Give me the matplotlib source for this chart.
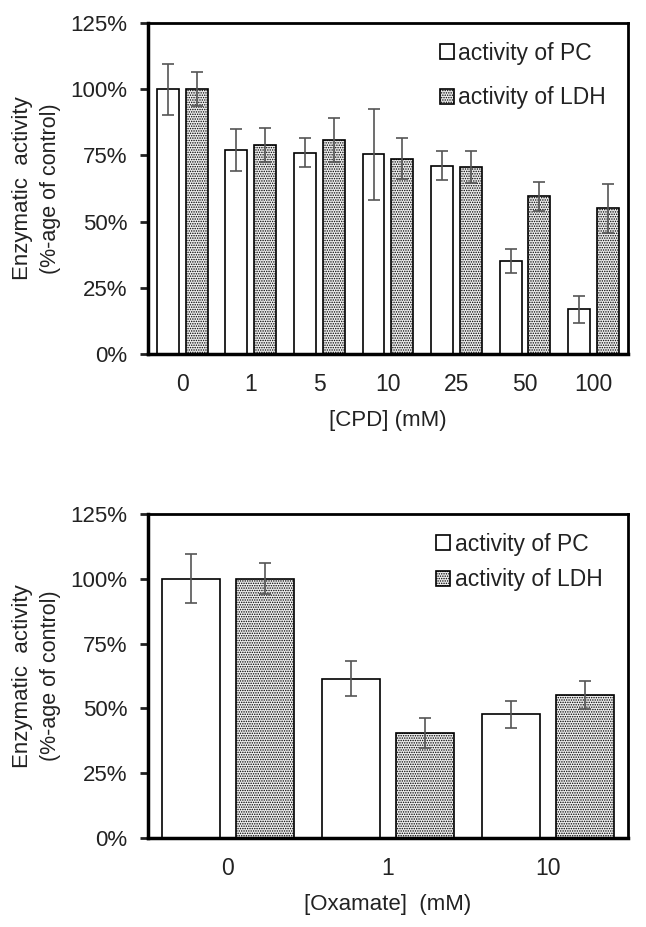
import numpy as np
import matplotlib.pyplot as plt
from matplotlib.ticker import PercentFormatter

plt.rcParams['font.family'] = ['Liberation Sans', 'DejaVu Sans']
plt.rcParams['hatch.color'] = '#6a6a6a'
plt.rcParams['hatch.linewidth'] = 0.7

# dados - CPD
cpd_doses = ['0', '1', '5', '10', '25', '50', '100']
cpd_pc = [100, 77.1, 76.1, 75.5, 71.2, 35.1, 16.9]
cpd_pc_err = [9.7, 7.8, 5.5, 17.2, 5.3, 4.4, 5.0]
cpd_ldh = [100, 78.9, 81.0, 73.8, 70.6, 59.5, 55.0]
cpd_ldh_err = [6.5, 6.5, 8.3, 7.8, 5.9, 5.4, 9.4]

# dados - oxamato
oxa_doses = ['0', '1', '10']
oxa_pc = [100, 61.4, 47.7]
oxa_pc_err = [9.4, 6.8, 5.3]
oxa_ldh = [100, 40.4, 55.1]
oxa_ldh_err = [6.0, 5.8, 5.3]

txt = '#222222'


def painel(ax, doses, pc, pc_err, ldh, ldh_err, largura, desloc, xlabel, leg_pos, espaco):
    x = np.arange(len(doses))
    erro = dict(ecolor='#555555', elinewidth=1.2, capsize=4, capthick=1.2)
    ax.bar(x - desloc, pc, largura, color='white', edgecolor='black', linewidth=1.2,
           yerr=pc_err, error_kw=erro, label='activity of PC')
    ax.bar(x + desloc, ldh, largura, color='#eeeeee', edgecolor='black', linewidth=1.2,
           hatch='.......', yerr=ldh_err, error_kw=erro, label='activity of LDH')
    ax.set_xlim(-0.5, len(doses) - 0.5)
    ax.set_ylim(0, 125)
    ax.set_yticks([0, 25, 50, 75, 100, 125])
    ax.yaxis.set_major_formatter(PercentFormatter(decimals=0))
    ax.set_xticks(x)
    ax.set_xticklabels(doses)
    ax.tick_params(axis='x', length=0, labelsize=16.5, colors=txt, pad=14)
    ax.tick_params(axis='y', length=6, width=2, labelsize=16, colors=txt, pad=9)
    for s in ax.spines.values():
        s.set_linewidth(2)
    ax.spines['left'].set_linewidth(2.5)
    ax.spines['bottom'].set_linewidth(2.5)
    ax.set_xlabel(xlabel, fontsize=16, color=txt, labelpad=10)
    ax.text(-0.262, 0.5, 'Enzymatic  activity', transform=ax.transAxes, rotation=90,
            ha='center', va='center', fontsize=16, color=txt)
    ax.text(-0.204, 0.5, '(%-age of control)', transform=ax.transAxes, rotation=90,
            ha='center', va='center', fontsize=15.5, color=txt)
    ax.legend(loc='upper right', bbox_to_anchor=leg_pos, frameon=False,
              fontsize=16.5, handlelength=0.6, handleheight=0.6, handletextpad=0.2,
              labelspacing=espaco, labelcolor=txt)


fig = plt.figure(figsize=(6.46, 9.27), dpi=100)
ax1 = fig.add_axes([0.229, 0.6181, 0.743, 0.357])
ax2 = fig.add_axes([0.229, 0.0960, 0.743, 0.3495])

painel(ax1, cpd_doses, cpd_pc, cpd_pc_err, cpd_ldh, cpd_ldh_err, 0.32, 0.21,
       '[CPD] (mM)', (0.997, 1.006), 0.95)
painel(ax2, oxa_doses, oxa_pc, oxa_pc_err, oxa_ldh, oxa_ldh_err, 0.36, 0.23,
       '[Oxamate]  (mM)', (0.99, 1.006), 0.55)

fig.savefig('out.png', dpi=100)
